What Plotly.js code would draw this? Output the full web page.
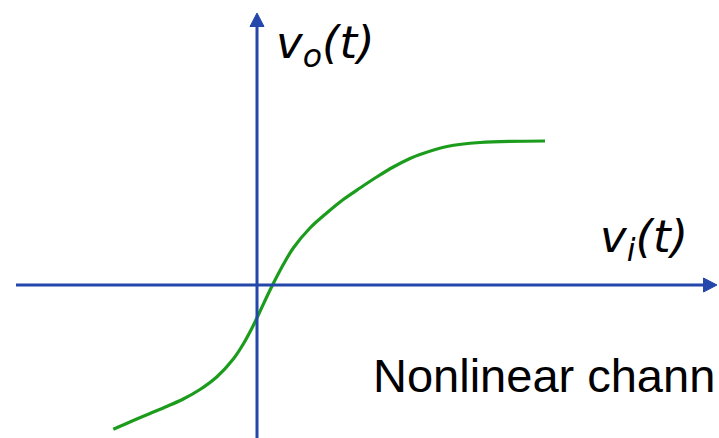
<!DOCTYPE html>
<html>
<head>
<meta charset="utf-8">
<script src="https://cdn.plot.ly/plotly-3.0.1.min.js"></script>
<style>html,body{margin:0;padding:0;background:#fff;overflow:hidden}#chart{width:719px;height:438px}</style>
</head>
<body>
<div id="chart"></div>
<script>
// Transfer characteristic of the nonlinear channel (input v_i, output v_o)
const vIn  = [-2.874, -2.474, -2.14, -1.806, -1.474, -1.14, -0.806, -0.474, -0.274, -0.074, 0.026, 0.194, 0.326, 0.526, 0.726, 1.06, 1.394, 1.726, 2.06, 2.394, 2.726, 3.06, 3.26, 3.80, 4.46, 5.76];
const vOut = [-2.886, -2.71, -2.57, -2.43, -2.28, -2.09, -1.84, -1.48, -1.18, -0.81, -0.60, -0.24, 0.03, 0.41, 0.74, 1.14, 1.44, 1.71, 1.94, 2.16, 2.36, 2.53, 2.61, 2.77, 2.85, 2.88];
// Axis extents (tail, arrow tip)
const xAxisEnds = [-4.82, 9.2];
const yAxisEnds = [-3.1, 5.44];
const labels = {out: "<i>v</i><sub><i>o</i></sub><i>(t)</i>", inp: "<i>v</i><sub><i>i</i></sub><i>(t)</i>", caption: "Nonlinear chann"};

const axisBlue = "#2347aa";
const curveGreen = "#1c9c1c";
const headLen = 0.27, headHalf = 0.14;

const trace = {
  x: vIn, y: vOut, type: "scatter", mode: "lines",
  line: {color: curveGreen, width: 3.2, shape: "spline", smoothing: 0.9},
  hoverinfo: "skip", showlegend: false
};

const xt = xAxisEnds[1], yt = yAxisEnds[1];
const shapes = [
  {type: "line", xref: "x", yref: "y", x0: xAxisEnds[0], x1: xt - headLen + 0.02, y0: 0, y1: 0,
   line: {color: axisBlue, width: 3}},
  {type: "line", xref: "x", yref: "y", x0: 0, x1: 0, y0: yAxisEnds[0], y1: yt - headLen + 0.02,
   line: {color: axisBlue, width: 3}},
  {type: "path", xref: "x", yref: "y",
   path: `M ${xt} 0 L ${xt - headLen} ${headHalf} L ${xt - headLen} ${-headHalf} Z`,
   fillcolor: axisBlue, line: {color: axisBlue, width: 1}},
  {type: "path", xref: "x", yref: "y",
   path: `M 0 ${yt} L ${headHalf} ${yt - headLen} L ${-headHalf} ${yt - headLen} Z`,
   fillcolor: axisBlue, line: {color: axisBlue, width: 1}}
];

const layout = {
  width: 719, height: 438,
  margin: {l: 0, r: 0, t: 0, b: 0},
  paper_bgcolor: "#ffffff", plot_bgcolor: "#ffffff",
  xaxis: {range: [-5.14, 9.24], visible: false, fixedrange: true},
  yaxis: {range: [-3.06, 5.70], visible: false, fixedrange: true},
  shapes: shapes,
  annotations: [
    {x: 0.34, y: 4.8, xref: "x", yref: "y", xanchor: "left", yanchor: "middle", showarrow: false,
     text: labels.out, font: {family: "DejaVu Sans", size: 45, color: "#000"}},
    {x: 6.82, y: 0.92, xref: "x", yref: "y", xanchor: "left", yanchor: "middle", showarrow: false,
     text: labels.inp, font: {family: "DejaVu Sans", size: 45, color: "#000"}},
    {x: 2.28, y: -1.8, xref: "x", yref: "y", xanchor: "left", yanchor: "middle", showarrow: false,
     text: labels.caption, font: {family: "Liberation Sans", size: 47, color: "#000"}}
  ]
};

Plotly.newPlot("chart", [trace], layout, {displayModeBar: false, staticPlot: true});
</script>
</body>
</html>
